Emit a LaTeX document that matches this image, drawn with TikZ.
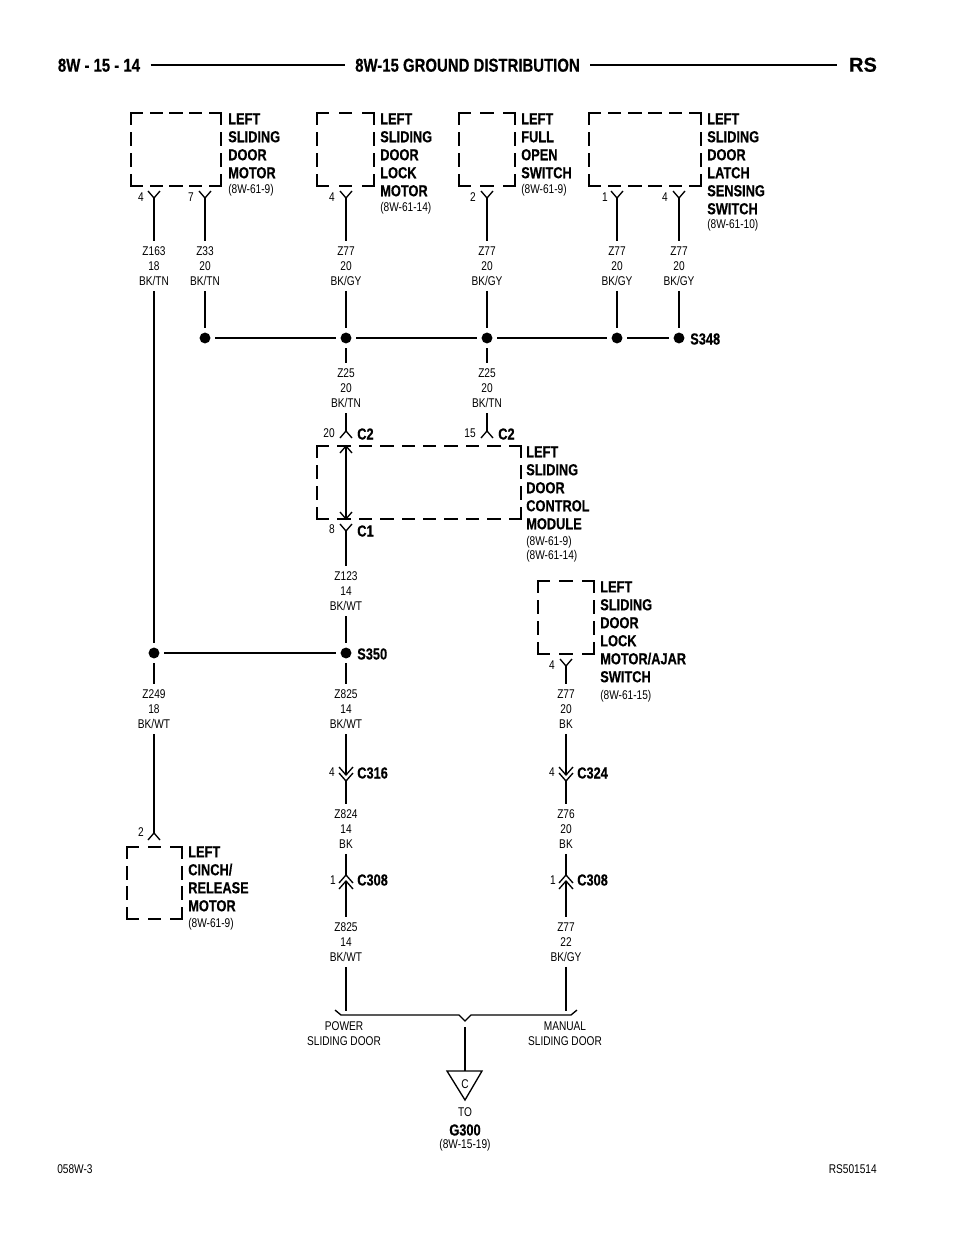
\documentclass[tikz,border=0pt]{standalone}
\usepackage{fontspec}
\setmainfont{Liberation Sans}[FakeStretch=0.8,BoldFeatures={FakeBold=0.4}]
\newfontfamily\widefont{Liberation Sans}[BoldFeatures={FakeBold=0.4}]
\usetikzlibrary{positioning,calc}

\tikzset{
  wire/.style={line width=1pt,black},
  bus/.style={line width=1.6pt,black},
  dashbox/.style={line width=1.8pt,black,line cap=rect},
  wirelabel/.style={font=\fontsize{9.5}{11.4}\selectfont,align=center,inner xsep=1pt,inner ysep=0pt,outer sep=4pt},
  partlabel/.style={font=\fontsize{12}{13.5}\selectfont\bfseries,align=left,anchor=north west,inner sep=0pt},
  reflabel/.style={font=\fontsize{9.5}{11}\selectfont,align=left,anchor=west,inner sep=0pt},
  pinnum/.style={font=\fontsize{9.5}{11}\selectfont,inner sep=0pt},
  connlabel/.style={font=\fontsize{12}{13.5}\selectfont\bfseries,anchor=west,inner sep=0pt},
  splice/.style={circle,fill=black,minimum size=8.2pt,inner sep=0pt,outer sep=3.4pt},
  headtext/.style={font=\fontsize{14}{16}\selectfont\bfseries,text height=10pt,text depth=0pt,inner sep=0pt,outer sep=8pt},
  footer/.style={font=\fontsize{9.5}{11}\selectfont,inner sep=0pt},
  forkd/.pic={\draw[wire] (-6,-7) -- (0,0) -- (6,-7);},
  forku/.pic={\draw[wire] (-6,7) -- (0,0) -- (6,7);},
  chevd/.pic={\draw[wire] (-7,-8) -- (0,0) -- (7,-8);\draw[wire] (-7,-2) -- (0,6) -- (7,-2);},
  chevu/.pic={\draw[wire] (-7,8) -- (0,0) -- (7,8);\draw[wire] (-7,14) -- (0,6) -- (7,14);},
}

% one dashed side: full dash at both corners
\newcommand{\dside}[4]{%
  \pgfmathsetmacro{\sidelen}{abs(#3-#1)+abs(#4-#2)-11}%
  \pgfmathsetmacro{\sidegap}{(\sidelen/round(\sidelen/21)-11)*0.75}%
  \draw[dashbox,dash pattern=on 8.25pt off \sidegap pt] (#1,#2) -- (#3,#4);}
\newcommand{\dbox}[4]{\dside{#1}{#2}{#3}{#2}\dside{#3}{#2}{#3}{#4}\dside{#1}{#4}{#3}{#4}\dside{#1}{#2}{#1}{#4}}

\begin{document}
\begin{tikzpicture}[x=0.75pt,y=-0.75pt]
\useasboundingbox (0,0) rectangle (960,1242);

% Page header
\node[headtext] (pagenum) at (99,65) {8W - 15 - 14};
\node[headtext] (title) at (467.5,65) {8W-15 GROUND DISTRIBUTION};
\node[headtext,font=\fontsize{15}{16}\selectfont\widefont\bfseries,outer sep=9pt] (rs) at (863,65) {RS};
\draw[bus] (pagenum) -- (title);
\draw[bus] (title) -- (rs);

% Top row of parts
\dbox{131}{113}{221}{186}
\node[partlabel] (motorl) at (228,113) {LEFT\\SLIDING\\DOOR\\MOTOR};
\node[reflabel] (motorr) at (228,190) {(8W-61-9)};
\dbox{317}{113}{374}{186}
\node[partlabel] (lockl) at (380,113) {LEFT\\SLIDING\\DOOR\\LOCK\\MOTOR};
\node[reflabel] (lockr) at (380,208) {(8W-61-14)};
\dbox{459}{113}{515}{186}
\node[partlabel] (openl) at (521,113) {LEFT\\FULL\\OPEN\\SWITCH};
\node[reflabel] (openr) at (521,190) {(8W-61-9)};
\dbox{589}{113}{701}{186}
\node[partlabel] (latchl) at (707,113) {LEFT\\SLIDING\\DOOR\\LATCH\\SENSING\\SWITCH};
\node[reflabel] (latchr) at (707,225) {(8W-61-10)};

% Pins under the parts
\coordinate (p1) at (154,198);
\coordinate (p2) at (205,198);
\coordinate (p3) at (346,198);
\coordinate (p4) at (487,198);
\coordinate (p5) at (617,198);
\coordinate (p6) at (679,198);
\foreach \p in {p1,p2,p3,p4,p5,p6} \pic at (\p) {forkd};
\node[pinnum] (n1) at (141,197) {4};
\node[pinnum] (n2) at (191,197) {7};
\node[pinnum] (n3) at (332,197) {4};
\node[pinnum] (n4) at (473,197) {2};
\node[pinnum] (n5) at (605,197) {1};
\node[pinnum] (n6) at (665,197) {4};

% Wire labels, top row
\node[wirelabel] (z163) at (154,266) {Z163\\18\\BK/TN};
\node[wirelabel] (z33) at (205,266) {Z33\\20\\BK/TN};
\node[wirelabel] (z77a) at (346,266) {Z77\\20\\BK/GY};
\node[wirelabel] (z77b) at (487,266) {Z77\\20\\BK/GY};
\node[wirelabel] (z77c) at (617,266) {Z77\\20\\BK/GY};
\node[wirelabel] (z77d) at (679,266) {Z77\\20\\BK/GY};

% S348 splice
\node[splice] (d1) at (205,338) {};
\node[splice] (d2) at (346,338) {};
\node[splice] (d3) at (487,338) {};
\node[splice] (d4) at (617,338) {};
\node[splice] (d5) at (679,338) {};
\node[connlabel] (s348) at (690,339) {S348};
\draw[bus] (d1) -- (d2);
\draw[bus] (d2) -- (d3);
\draw[bus] (d3) -- (d4);
\draw[bus] (d4) -- (d5);

\draw[wire] (p1) -- (z163);
\draw[wire] (p2) -- (z33);
\draw[wire] (p3) -- (z77a);
\draw[wire] (p4) -- (z77b);
\draw[wire] (p5) -- (z77c);
\draw[wire] (p6) -- (z77d);
\draw[wire] (z33) -- (d1);
\draw[wire] (z77a) -- (d2);
\draw[wire] (z77b) -- (d3);
\draw[wire] (z77c) -- (d4);
\draw[wire] (z77d) -- (d5);

% Control module
\node[wirelabel] (z25a) at (346,388) {Z25\\20\\BK/TN};
\node[wirelabel] (z25b) at (487,388) {Z25\\20\\BK/TN};
\coordinate (c2a) at (346,431);
\coordinate (c2b) at (487,431);
\pic at (c2a) {forku};
\pic at (c2b) {forku};
\node[pinnum] (n20) at (329,433) {20};
\node[pinnum] (n15) at (470,433) {15};
\node[connlabel] (c2al) at (357,434) {C2};
\node[connlabel] (c2bl) at (498,434) {C2};
\draw[wire] (d2) -- (z25a);
\draw[wire] (d3) -- (z25b);
\draw[wire] (z25a) -- (c2a);
\draw[wire] (z25b) -- (c2b);
\dbox{317}{446}{521}{519}
\coordinate (mtop) at (346,446);
\coordinate (mbot) at (346,519);
\pic at (mtop) {forku};
\pic[yscale=-1] at (mbot) {forku};
\draw[wire] (mtop) -- (mbot);
\node[partlabel] (modl) at (526,446) {LEFT\\SLIDING\\DOOR\\CONTROL\\MODULE};
\node[reflabel,font=\fontsize{9.5}{10.6}\selectfont] (modr) at (526,549) {(8W-61-9)\\(8W-61-14)};
\coordinate (c1) at (346,531);
\pic at (c1) {forkd};
\node[pinnum] (n8) at (332,529) {8};
\node[connlabel] (c1l) at (357,531) {C1};
\node[wirelabel] (z123) at (346,591) {Z123\\14\\BK/WT};
\draw[wire] (c1) -- (z123);

% S350 splice
\node[splice] (d6) at (154,653) {};
\node[splice] (d7) at (346,653) {};
\node[connlabel] (s350) at (357,654) {S350};
\draw[bus] (d6) -- (d7);
\draw[wire] (z123) -- (d7);
\draw[wire] (z163) -- (d6);

% Cinch motor
\node[wirelabel] (z249) at (154,709) {Z249\\18\\BK/WT};
\draw[wire] (d6) -- (z249);
\coordinate (p7) at (154,833);
\pic at (p7) {forku};
\node[pinnum] (n7) at (141,832) {2};
\draw[wire] (z249) -- (p7);
\dbox{127}{847}{182}{919}
\node[partlabel] (cinchl) at (188,846) {LEFT\\CINCH/\\RELEASE\\MOTOR};
\node[reflabel] (cinchr) at (188,924) {(8W-61-9)};

% Power side
\node[wirelabel] (z825a) at (346,709) {Z825\\14\\BK/WT};
\coordinate (c316a) at (346,775);
\coordinate (c316b) at (346,781);
\pic at (c316a) {chevd};
\node[pinnum] (n316) at (332,772) {4};
\node[connlabel] (c316l) at (357,773) {C316};
\node[wirelabel] (z824) at (346,829) {Z824\\14\\BK};
\coordinate (c308a) at (346,875);
\coordinate (c308b) at (346,881);
\pic at (c308a) {chevu};
\node[pinnum] (n308a) at (333,880) {1};
\node[connlabel] (c308al) at (357,880) {C308};
\node[wirelabel] (z825b) at (346,942) {Z825\\14\\BK/WT};
\coordinate (bra) at (346,1011);
\draw[wire] (d7) -- (z825a);
\draw[wire] (z825a) -- (c316a);
\draw[wire] (c316b) -- (z824);
\draw[wire] (z824) -- (c308a);
\draw[wire] (c308b) -- (z825b);
\draw[wire] (z825b) -- (bra);

% Lock motor / ajar switch and manual side
\dbox{538}{581}{594}{654}
\node[partlabel] (ajarl) at (600,581) {LEFT\\SLIDING\\DOOR\\LOCK\\MOTOR/AJAR\\SWITCH};
\node[reflabel] (ajarr) at (600,696) {(8W-61-15)};
\coordinate (p8) at (566,666);
\pic at (p8) {forkd};
\node[pinnum] (n8b) at (552,665) {4};
\node[wirelabel] (z77e) at (566,709) {Z77\\20\\BK};
\coordinate (c324a) at (566,775);
\coordinate (c324b) at (566,781);
\pic at (c324a) {chevd};
\node[pinnum] (n324) at (552,772) {4};
\node[connlabel] (c324l) at (577,773) {C324};
\node[wirelabel] (z76) at (566,829) {Z76\\20\\BK};
\coordinate (c308c) at (566,875);
\coordinate (c308d) at (566,881);
\pic at (c308c) {chevu};
\node[pinnum] (n308b) at (553,880) {1};
\node[connlabel] (c308bl) at (577,880) {C308};
\node[wirelabel] (z77f) at (566,942) {Z77\\22\\BK/GY};
\coordinate (brb) at (566,1011);
\draw[wire] (p8) -- (z77e);
\draw[wire] (z77e) -- (c324a);
\draw[wire] (c324b) -- (z76);
\draw[wire] (z76) -- (c308c);
\draw[wire] (c308d) -- (z77f);
\draw[wire] (z77f) -- (brb);

% Joint to ground
\coordinate (j1) at (335,1010);
\coordinate (j2) at (341,1015);
\coordinate (j3) at (459,1015);
\coordinate (j4) at (465,1021);
\coordinate (j5) at (471,1015);
\coordinate (j6) at (571,1015);
\coordinate (j7) at (577,1010);
\draw[wire] (j1) -- (j2) -- (j3) -- (j4) -- (j5) -- (j6) -- (j7);
\node[wirelabel] (power) at (344,1034) {POWER\\SLIDING DOOR};
\node[wirelabel] (manual) at (565,1034) {MANUAL\\SLIDING DOOR};
\coordinate (g0) at (465,1027);
\coordinate (g1) at (465,1071);
\coordinate (g2) at (447,1071);
\coordinate (g3) at (482,1071);
\coordinate (g4) at (465,1100);
\draw[wire] (g0) -- (g1);
\draw[wire] (g2) -- (g3) -- (g4) -- cycle;
\node[pinnum] (gc) at (465,1084) {C};
\node[wirelabel] (gto) at (465,1112) {TO};
\node[connlabel,anchor=center] (g300) at (465,1130) {G300};
\node[wirelabel] (gref) at (465,1145) {(8W-15-19)};

% Page footer
\node[footer,anchor=west] (fig) at (57,1169) {058W-3};
\node[footer,anchor=east] (code) at (877,1169) {RS501514};
\end{tikzpicture}
\end{document}
